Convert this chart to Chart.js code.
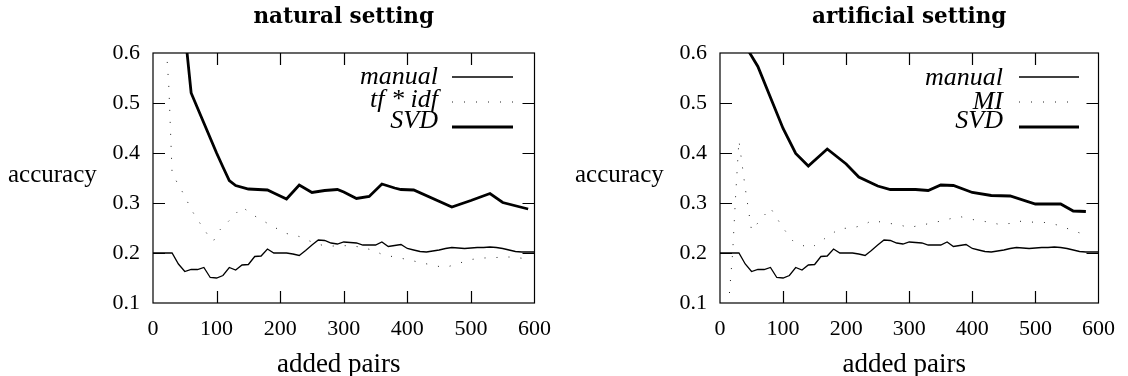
<!DOCTYPE html>
<html>
<head>
<meta charset="utf-8">
<script src="https://cdn.jsdelivr.net/npm/chart.js@4.4.1/dist/chart.umd.min.js"></script>
<style>
body { margin: 0; background: #fff; }
#wrap { position: relative; width: 1128px; height: 376px; }
canvas { position: absolute; top: 0; }
#c1 { left: 0; }
#c2 { left: 564px; }
</style>
</head>
<body>
<div id="wrap">
  <canvas id="c1" width="564" height="376"></canvas>
  <canvas id="c2" width="564" height="376"></canvas>
</div>
<script>
// ticks
const xTicks = [0, 100, 200, 300, 400, 500, 600];
const yTicks = [0.1, 0.2, 0.3, 0.4, 0.5, 0.6];

// manual is the same curve in both settings
const manualX = [0,10,20,30,40,50,60,70,80,90,100,110,120,130,140,150,160,170,180,190,200,
  210,220,230,240,250,260,270,280,290,300,310,320,330,340,350,360,370,380,390,400,
  410,420,430,440,450,460,470,480,490,500,510,520,530,540,550,560,570,580,590,600];
const manualY = [0.200,0.200,0.200,0.200,
  0.178,0.163,0.167,0.167,0.171,0.151,0.150,
  0.155,0.171,0.166,0.176,0.177,0.193,0.194,0.208,0.200,0.200,
  0.200,0.198,0.195,0.205,0.216,0.226,0.225,0.220,0.218,0.222,
  0.221,0.220,0.216,0.216,0.216,0.222,0.213,0.215,0.217,0.209,
  0.206,0.203,0.202,0.204,0.206,0.209,0.211,0.210,0.209,0.210,
  0.211,0.211,0.212,0.211,0.209,0.206,0.203,0.202,0.202,0.202];

// natural setting
const tfidfX = [20,25,30,40,50,60,70,80,90,95,105,120,140,160,190,210,230,250,270,290,
  310,330,350,360,380,400,420,450,460,480,500,520,540,560,585];
const tfidfY = [0.63,0.53,0.36,0.336,0.314,0.287,0.267,0.248,0.229,0.224,0.246,0.265,0.292,0.274,0.252,0.239,0.233,0.222,0.214,0.214,
  0.215,0.211,0.204,0.197,0.192,0.187,0.181,0.173,0.171,0.179,0.187,0.190,0.191,0.192,0.189];
const svdNatX = [50,60,70,80,90,100,110,120,130,150,180,190,210,230,250,270,290,300,320,340,
  360,380,390,410,470,500,530,550,590];
const svdNatY = [0.645,0.52,0.49,0.46,0.43,0.40,0.372,0.345,0.335,0.328,0.326,0.320,0.308,0.336,0.321,0.325,0.327,0.322,0.309,0.313,
  0.338,0.330,0.327,0.326,0.292,0.305,0.319,0.301,0.288];

// artificial setting
const miX = [15,20,25,30,40,50,60,80,90,100,115,140,150,165,190,210,230,240,260,285,
  300,320,340,360,380,400,420,440,460,470,490,515,535,555,575];
const miY = [0.12,0.20,0.32,0.425,0.33,0.245,0.26,0.29,0.27,0.25,0.225,0.21,0.215,0.228,0.249,0.250,0.257,0.265,0.261,0.256,
  0.251,0.256,0.261,0.267,0.273,0.267,0.263,0.258,0.259,0.264,0.262,0.261,0.256,0.247,0.238];
const svdArtX = [40,60,80,100,120,140,170,200,220,250,270,310,330,350,370,400,430,460,500,540,560,580];
const svdArtY = [0.615,0.573,0.511,0.449,0.399,0.374,0.408,0.378,0.352,0.334,0.327,0.327,0.325,0.336,0.335,0.321,0.315,0.314,0.298,0.298,0.284,0.283];

Chart.defaults.font.family = '"Liberation Serif", serif';
Chart.defaults.font.size = 22;
Chart.defaults.color = '#000';

function pts(xs, ys) {
  return xs.map((v, i) => ({ x: v, y: ys[i] }));
}

function thinLine(label, xs, ys) {
  return { label: label, data: pts(xs, ys), borderColor: '#000', borderWidth: 1.3, pointRadius: 0 };
}
function dotLine(label, xs, ys) {
  return { label: label, data: pts(xs, ys), borderColor: '#222', borderWidth: 1, borderDash: [1, 11], pointRadius: 0 };
}
function thickLine(label, xs, ys) {
  return { label: label, data: pts(xs, ys), borderColor: '#000', borderWidth: 2.8, pointRadius: 0 };
}

// frame, inner ticks, titles and key, like gnuplot draws them
const gnuFrame = {
  id: 'gnuFrame',
  afterDraw(chart, args, o) {
    const { ctx, chartArea: { left, right, top, bottom }, scales: { x, y } } = chart;
    ctx.save();
    ctx.strokeStyle = '#000';
    ctx.lineWidth = 1.2;
    ctx.strokeRect(left, top, right - left, bottom - top);
    ctx.beginPath();
    xTicks.slice(1, -1).forEach(v => {
      const px = Math.round(x.getPixelForValue(v)) + 0.5;
      ctx.moveTo(px, bottom); ctx.lineTo(px, bottom - 12);
      ctx.moveTo(px, top); ctx.lineTo(px, top + 12);
    });
    yTicks.slice(1, -1).forEach(v => {
      const py = Math.round(y.getPixelForValue(v)) + 0.5;
      ctx.moveTo(left, py); ctx.lineTo(left + 12, py);
      ctx.moveTo(right, py); ctx.lineTo(right - 12, py);
    });
    ctx.stroke();

    ctx.fillStyle = '#000';
    ctx.textBaseline = 'alphabetic';
    ctx.font = 'bold 21.5px "DejaVu Serif"';
    ctx.textAlign = 'center';
    ctx.fillText(o.title, (left + right) / 2, 23);

    ctx.font = '25px "Liberation Serif"';
    ctx.textAlign = 'left';
    ctx.fillText('accuracy', o.yLabelX, 182);
    ctx.font = '27px "Liberation Serif"';
    ctx.textAlign = 'center';
    ctx.fillText('added pairs', (left + right) / 2 - 5, 372);

    // key
    ctx.font = 'italic 26px "Liberation Serif"';
    ctx.textAlign = 'right';
    chart.data.datasets.forEach((ds, i) => {
      ctx.fillText(ds.label, o.keyText, o.keyBase[i]);
      ctx.beginPath();
      ctx.lineWidth = ds.borderWidth;
      ctx.strokeStyle = ds.borderColor;
      ctx.setLineDash(ds.borderDash || []);
      ctx.moveTo(o.keyLine[0], o.keyRow[i]);
      ctx.lineTo(o.keyLine[1], o.keyRow[i]);
      ctx.stroke();
      ctx.setLineDash([]);
    });
    ctx.restore();
  }
};

function makeChart(id, datasets, o) {
  return new Chart(document.getElementById(id), {
    type: 'line',
    data: { datasets: datasets },
    options: {
      responsive: false,
      animation: false,
      layout: { padding: { left: 0, right: o.padRight, top: 53, bottom: 0 } },
      plugins: { legend: { display: false }, tooltip: { enabled: false }, gnuFrame: o },
      scales: {
        x: {
          type: 'linear', min: 0, max: 600,
          grid: { display: false, drawTicks: false },
          border: { display: false },
          afterBuildTicks: s => { s.ticks = xTicks.map(v => ({ value: v })); },
          afterFit: s => { s.height = 73; },
          ticks: { padding: 13, maxRotation: 0, autoSkip: false }
        },
        y: {
          type: 'linear', min: 0.1, max: 0.6,
          grid: { display: false, drawTicks: false },
          border: { display: false },
          afterBuildTicks: s => { s.ticks = yTicks.map(v => ({ value: v })); },
          afterFit: s => { s.width = o.axisWidth; },
          ticks: { padding: 13, callback: v => v.toFixed(1) }
        }
      }
    },
    plugins: [gnuFrame]
  });
}

makeChart('c1', [
  thinLine('manual', manualX, manualY),
  dotLine('tf * idf', tfidfX, tfidfY),
  thickLine('SVD', svdNatX, svdNatY)
], {
  title: 'natural setting', axisWidth: 153, padRight: 27, yLabelX: 8,
  keyText: 438, keyLine: [452, 513], keyRow: [77, 102, 127], keyBase: [84, 107, 128]
});

makeChart('c2', [
  thinLine('manual', manualX, manualY),
  dotLine('MI', miX, miY),
  thickLine('SVD', svdArtX, svdArtY)
], {
  title: 'artificial setting', axisWidth: 156, padRight: 24, yLabelX: 11,
  keyText: 439, keyLine: [455, 515], keyRow: [77, 102, 127], keyBase: [85, 109, 128]
});
</script>
</body>
</html>
